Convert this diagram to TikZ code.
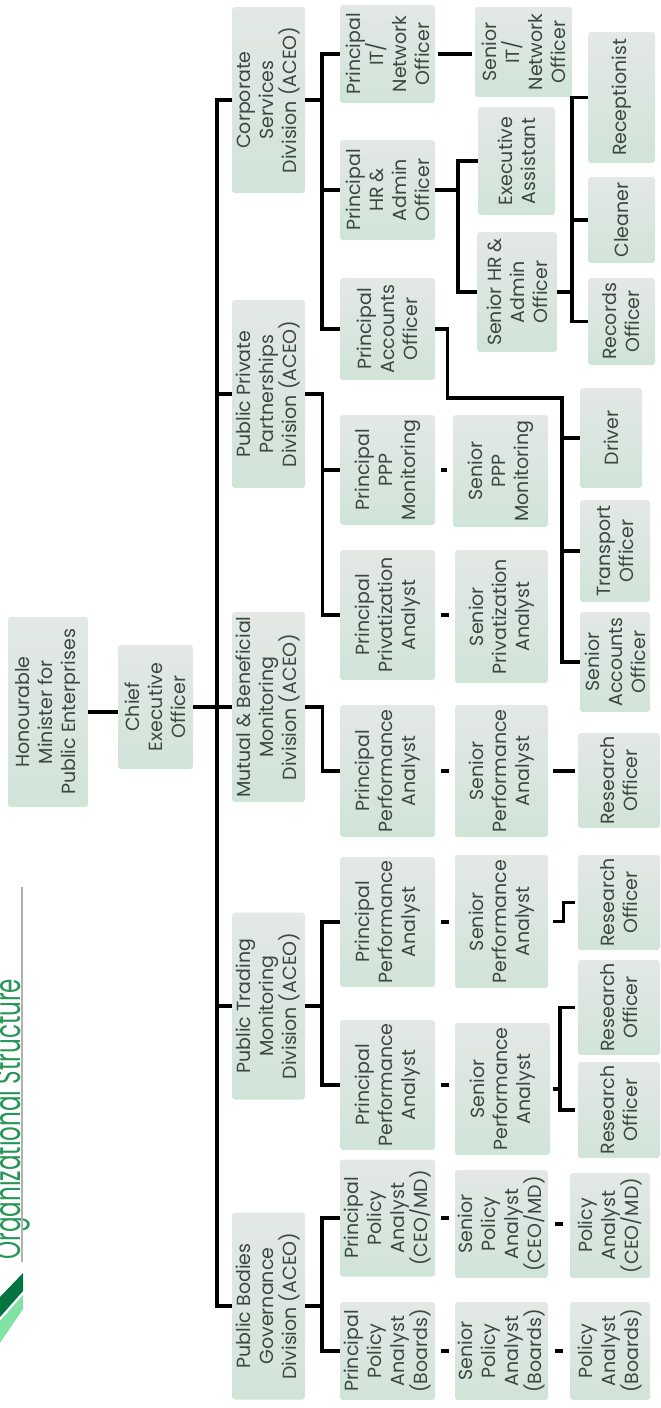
\documentclass[tikz,border=0pt]{standalone}
\usepackage{fontspec}
\setmainfont{Poppins}
\usepackage{tikz}
\definecolor{boxgray}{RGB}{228,232,230}
\definecolor{boxgreen}{RGB}{208,228,216}
\definecolor{textgray}{RGB}{58,72,63}
\definecolor{titlegreen}{RGB}{38,150,88}
\definecolor{titleline}{RGB}{175,178,176}
\definecolor{logodark}{RGB}{0,118,62}
\definecolor{logolight}{RGB}{130,225,165}
\tikzset{post/.style 2 args={draw=none, rounded corners=3pt, top color=boxgray, bottom color=boxgreen, text=textgray, rotate=90, align=center, inner sep=0pt, minimum width=#1, minimum height=#2, font=\fontsize{19}{23}\selectfont}}
\tikzset{
  edgeorg/.style={black, line width=3.4pt},
  edgetick/.style={black, line width=3.4pt, shorten <=6pt, shorten >=6pt}
}

\begin{document}
\begin{tikzpicture}[x=1pt, y=-1pt]
\useasboundingbox (0,0) rectangle (661,1408);
\node[anchor=base west, rotate=90, text=titlegreen, font=\fontsize{36}{38}\selectfont] (title) at (20,1263) {\scalebox{0.64}[1]{Organizational Structure}};
\draw[titleline, line width=2pt] (22,887) -- (22,1262);
\fill[logodark] (0,1297) -- (23,1273) -- (23,1291) -- (0,1317) -- cycle;
\fill[logolight] (0,1321) -- (23,1295) -- (23,1309) -- (0,1343) -- cycle;
\node[post={190}{80}] (minister) at (48,712) {Honourable\\Minister for\\Public Enterprises};
\node[post={124}{75}] (ceo) at (155.5,707) {Chief\\Executive\\Officer};
\node[post={186}{73}] (divCS) at (268.5,100) {Corporate\\Services\\Division (ACEO)};
\node[post={188}{73}] (divPPP) at (268.5,394) {Public Private\\Partnerships\\Division (ACEO)};
\node[post={190}{73}] (divMB) at (268.5,707) {Mutual \& Beneficial\\Monitoring\\Division (ACEO)};
\node[post={187}{73}] (divPT) at (268.5,1006) {Public Trading\\Monitoring\\Division (ACEO)};
\node[post={187}{73}] (divPB) at (268.5,1306) {Public Bodies\\Governance\\Division (ACEO)};
\node[post={98}{95}] (priIT) at (387.5,54) {Principal\\IT/\\Network\\Officer};
\node[post={100}{95}] (priHR) at (387.5,190) {Principal\\HR \&\\Admin\\Officer};
\node[post={102}{95}] (priAcc) at (387.5,329) {Principal\\Accounts\\Officer};
\node[post={110}{95}] (priPPP) at (387.5,470) {Principal\\PPP\\Monitoring};
\node[post={130}{95}] (priPriv) at (387.5,615) {Principal\\Privatization\\Analyst};
\node[post={132}{95}] (priMB) at (387.5,771) {Principal\\Performance\\Analyst};
\node[post={130}{95}] (priPT2) at (387.5,922) {Principal\\Performance\\Analyst};
\node[post={130}{95}] (priPT1) at (387.5,1085) {Principal\\Performance\\Analyst};
\node[post={117}{95}] (priCEO) at (387.5,1218) {Principal\\Policy\\Analyst\\(CEO/MD)};
\node[post={98}{95}] (priBrd) at (387.5,1351) {Principal\\Policy\\Analyst\\(Boards)};
\node[post={90}{97}] (senIT) at (523.5,52) {Senior\\IT/\\Network\\Officer};
\node[post={108}{77}] (exeAsst) at (516.5,161) {Executive\\Assistant};
\node[post={120}{80}] (senHR) at (517,292) {Senior HR \&\\Admin\\Officer};
\node[post={112}{95}] (senPPP) at (500.5,471) {Senior\\PPP\\Monitoring};
\node[post={133}{93}] (senPriv) at (501.5,616.5) {Senior\\Privatization\\Analyst};
\node[post={132}{93}] (senMB) at (501.5,771) {Senior\\Performance\\Analyst};
\node[post={133}{93}] (senPT2) at (501.5,921.5) {Senior\\Performance\\Analyst};
\node[post={132}{95}] (senPT1) at (502.5,1089) {Senior\\Performance\\Analyst};
\node[post={108}{93}] (senCEO) at (501.5,1224) {Senior\\Policy\\Analyst\\(CEO/MD)};
\node[post={98}{93}] (senBrd) at (501.5,1351) {Senior\\Policy\\Analyst\\(Boards)};
\node[post={131}{67}] (recep) at (621.5,97.5) {Receptionist};
\node[post={86}{67}] (cleaner) at (621.5,220) {Cleaner};
\node[post={87}{67}] (records) at (621.5,321.5) {Records\\Officer};
\node[post={100}{62}] (driver) at (611,438) {Driver};
\node[post={102}{70}] (transp) at (615,551) {Transport\\Officer};
\node[post={100}{70}] (senAcc) at (615,662) {Senior\\Accounts\\Officer};
\node[post={95}{82}] (resMB) at (619,780.5) {Research\\Officer};
\node[post={95}{82}] (resPT2) at (619,902.5) {Research\\Officer};
\node[post={95}{82}] (resPT1a) at (619,1007.5) {Research\\Officer};
\node[post={96}{82}] (resPT1b) at (619,1110) {Research\\Officer};
\node[post={105}{80}] (polCEO) at (610,1225.5) {Policy\\Analyst\\(CEO/MD)};
\node[post={98}{80}] (polBrd) at (610,1351) {Policy\\Analyst\\(Boards)};
\coordinate (accJ) at (562,398);
\draw[edgeorg] (minister.south) -- (minister.south -| ceo.north);
\draw[edgeorg] (ceo.south) -- (divMB.north);
\draw[edgeorg] (divCS.north) -- ++(-15,0) |- (divPB.north);
\draw[edgeorg] (divPPP.north) -- ++(-15,0);
\draw[edgeorg] (divPT.north) -- ++(-15,0);
\draw[edgeorg] (priIT.north) -- ++(-18,0) |- (priAcc.north);
\draw[edgeorg] (priHR.north) -- ++(-18,0);
\draw[edgeorg] (divCS.south) -- ++(17,0);
\draw[edgeorg] (divPPP.south) -- ++(17,0) |- (priPriv.north);
\draw[edgeorg] (priPPP.north) -- ++(-18,0);
\draw[edgeorg] (divMB.south) -- ++(17,0) |- (priMB.north);
\draw[edgeorg] (priPT2.north) -- ++(-18,0) |- (priPT1.north);
\draw[edgeorg] (divPT.south) -- ++(17,0);
\draw[edgeorg] (priCEO.north) -- ++(-18,0) |- (priBrd.north);
\draw[edgeorg] (divPB.south) -- ++(17,0);
\draw[edgeorg, shorten <=3pt, shorten >=3pt] (priIT.south) -- (priIT.south -| senIT.north);
\draw[edgeorg] (exeAsst.north) -- ++(-20,0) |- (senHR.north);
\draw[edgeorg] (priHR.south) -- ++(23,0);
\draw[edgeorg] (recep.north) -- ++(-16,0) |- (records.north);
\draw[edgeorg] (cleaner.north) -- ++(-16,0);
\draw[edgeorg] (senHR.south) -- ++(15,0);
\draw[edgeorg] (priAcc.south) -- ++(12,0) |- (accJ) |- (senAcc.north);
\draw[edgeorg] (driver.north) -- (driver.north -| accJ);
\draw[edgeorg] (transp.north) -- (transp.north -| accJ);
\draw[edgetick] (priPPP.south) -- (priPPP.south -| senPPP.north);
\draw[edgetick] (priPriv.south) -- (priPriv.south -| senPriv.north);
\draw[edgetick] (priMB.south) -- (priMB.south -| senMB.north);
\draw[edgetick] (priPT2.south) -- (priPT2.south -| senPT2.north);
\draw[edgetick] (priPT1.south) -- (priPT1.south -| senPT1.north);
\draw[edgetick] (priCEO.south) -- (priCEO.south -| senCEO.north);
\draw[edgetick] (priBrd.south) -- (priBrd.south -| senBrd.north);
\draw[edgetick, shorten <=7pt, shorten >=7pt] (senCEO.south) -- (senCEO.south -| polCEO.north);
\draw[edgetick, shorten <=7pt, shorten >=7pt] (senBrd.south) -- (senBrd.south -| polBrd.north);
\draw[edgeorg, shorten <=5pt, shorten >=3pt] (senMB.south) -- (senMB.south -| resMB.north);
\draw[edgeorg] ([xshift=5pt]senPT2.south) -- ++(10,0) |- ([xshift=-3pt]resPT2.north);
\draw[edgeorg] ([xshift=-3pt]resPT1a.north) -- ++(-15,0) |- ([xshift=-3pt]resPT1b.north);
\draw[edgeorg] ([xshift=3pt]senPT1.south) -- ++(7,0);
\end{tikzpicture}
\end{document}
